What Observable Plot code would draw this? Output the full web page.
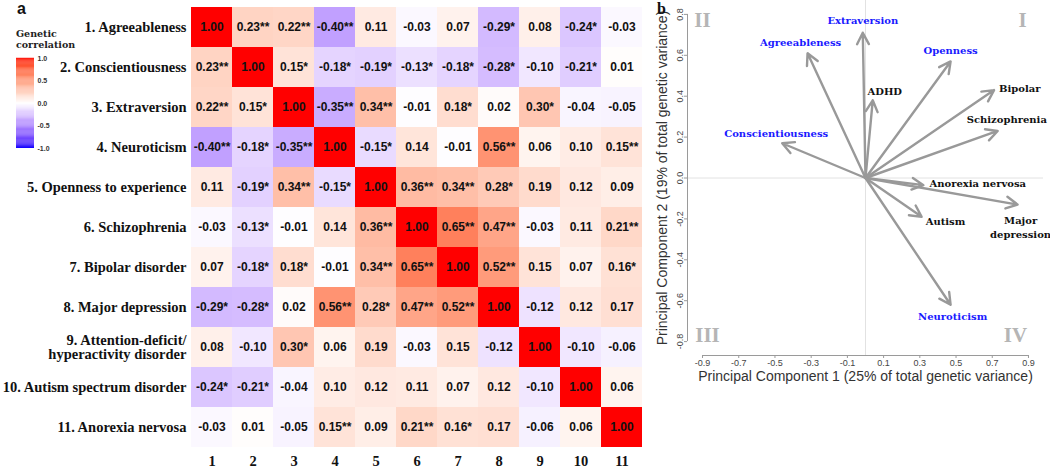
<!DOCTYPE html>
<html>
<head>
<meta charset="utf-8">
<script src="https://cdn.jsdelivr.net/npm/d3@7"></script>
<script src="https://cdn.jsdelivr.net/npm/@observablehq/plot@0.6"></script>
<style>
  body { margin: 0; background: white; }
  #wrap { position: relative; width: 1050px; height: 470px; overflow: hidden; }
  #wrap > * { position: absolute; }
</style>
</head>
<body>
<div id="wrap"></div>
<script>
// ---------- Panel a: genetic correlation matrix ----------
const traitLabels = [
  "1. Agreeableness",
  "2. Conscientiousness",
  "3. Extraversion",
  "4. Neuroticism",
  "5. Openness to experience",
  "6. Schizophrenia",
  "7. Bipolar disorder",
  "8. Major depression",
  "9. Attention-deficit/\nhyperactivity disorder",
  "10. Autism spectrum disorder",
  "11. Anorexia nervosa"
];
const columnLabels = ["1","2","3","4","5","6","7","8","9","10","11"];
const corrText = [
  ["1.00","0.23**","0.22**","-0.40**","0.11","-0.03","0.07","-0.29*","0.08","-0.24*","-0.03"],
  ["0.23**","1.00","0.15*","-0.18*","-0.19*","-0.13*","-0.18*","-0.28*","-0.10","-0.21*","0.01"],
  ["0.22**","0.15*","1.00","-0.35**","0.34**","-0.01","0.18*","0.02","0.30*","-0.04","-0.05"],
  ["-0.40**","-0.18*","-0.35**","1.00","-0.15*","0.14","-0.01","0.56**","0.06","0.10","0.15**"],
  ["0.11","-0.19*","0.34**","-0.15*","1.00","0.36**","0.34**","0.28*","0.19","0.12","0.09"],
  ["-0.03","-0.13*","-0.01","0.14","0.36**","1.00","0.65**","0.47**","-0.03","0.11","0.21**"],
  ["0.07","-0.18*","0.18*","-0.01","0.34**","0.65**","1.00","0.52**","0.15","0.07","0.16*"],
  ["-0.29*","-0.28*","0.02","0.56**","0.28*","0.47**","0.52**","1.00","-0.12","0.12","0.17"],
  ["0.08","-0.10","0.30*","0.06","0.19","-0.03","0.15","-0.12","1.00","-0.10","-0.06"],
  ["-0.24*","-0.21*","-0.04","0.10","0.12","0.11","0.07","0.12","-0.10","1.00","0.06"],
  ["-0.03","0.01","-0.05","0.15**","0.09","0.21**","0.16*","0.17","-0.06","0.06","1.00"]
];
const legendTicks = [1.0, 0.5, 0.0, -0.5, -1.0];

// ---------- Panel b: PCA loadings ----------
const pcaNames = ["Extraversion","Agreeableness","Openness","Conscientiousness","Neuroticism",
                  "ADHD","Bipolar","Schizophrenia","Anorexia nervosa","Major\ndepression","Autism"];
const pcaGroup = ["personality","personality","personality","personality","personality",
                  "disorder","disorder","disorder","disorder","disorder","disorder"];
const pc1 = [-0.015, -0.32, 0.47, -0.46, 0.47, 0.04, 0.71, 0.73, 0.32, 0.84, 0.31];
const pc2 = [0.71, 0.61, 0.57, 0.17, -0.62, 0.38, 0.43, 0.23, -0.035, -0.13, -0.19];
const pcXTicks = [-0.9, -0.7, -0.5, -0.3, -0.1, 0.1, 0.3, 0.5, 0.7, 0.9];
const pcYTicks = [-0.8, -0.6, -0.4, -0.2, 0.0, 0.2, 0.4, 0.6, 0.8];
const quadrantLabels = ["II", "I", "III", "IV"];
const xTitle = "Principal Component 1 (25% of total genetic variance)";
const yTitle = "Principal Component 2 (19% of total genetic variance)";

// ---------- build ----------
const wrap = document.getElementById("wrap");
const colorScale = {type: "linear", domain: [-1, 0, 1], range: ["blue", "white", "red"], interpolate: "lab"};

const idx = d3.range(1, 12);
const cells = [];
corrText.forEach((row, i) => row.forEach((t, j) => {
  cells.push({row: i + 1, col: j + 1, value: parseFloat(t), label: t});
}));

const heat = Plot.plot({
  width: 645, height: 470,
  marginLeft: 191, marginRight: 3, marginTop: 3, marginBottom: 20,
  x: {type: "band", domain: idx, padding: 0},
  y: {type: "band", domain: idx, padding: 0},
  color: colorScale,
  style: {background: "transparent", overflow: "visible"},
  marks: [
    Plot.cell(cells, {x: "col", y: "row", fill: "value", inset: 0}),
    Plot.text(cells, {x: "col", y: "row", text: "label", fill: "#111",
      fontWeight: "bold", fontSize: 12, fontFamily: "Liberation Sans, Arial, sans-serif"}),
    Plot.axisX({tickSize: 0, tickPadding: 5, label: null, fontSize: 14.5, fontWeight: "bold",
      fontFamily: "Liberation Serif, serif", color: "#111", tickFormat: d => columnLabels[d - 1]}),
    Plot.axisY({tickSize: 0, tickPadding: 5, label: null, fontSize: 14.5, fontWeight: "bold",
      fontFamily: "Liberation Serif, serif", color: "#111", tickFormat: d => traitLabels[d - 1]})
  ]
});
heat.style.left = "0px"; heat.style.top = "0px";
wrap.appendChild(heat);

// legend color bar
const step = 0.02;
const stops = d3.range(-1, 1, step);
const legend = Plot.plot({
  width: 60, height: 160,
  marginLeft: 16, marginRight: 26, marginTop: 58, marginBottom: 12,
  x: {domain: [0, 1], axis: null},
  y: {domain: [-1, 1], axis: null},
  color: colorScale,
  style: {background: "transparent", overflow: "visible"},
  marks: [
    Plot.rect(stops, {x1: 0, x2: 1, y1: d => d, y2: d => d + step + 0.005, fill: d => d + step / 2}),
    Plot.text(legendTicks, {x: 1, y: d => d, text: d => d.toFixed(1), dx: 3, textAnchor: "start",
      fontSize: 7, fontWeight: "bold", fill: "#333", fontFamily: "Liberation Sans, Arial, sans-serif"})
  ]
});
legend.style.left = "0px"; legend.style.top = "0px";
wrap.appendChild(legend);

const aLab = document.createElement("div");
aLab.textContent = "a";
aLab.style.cssText = "left:17px;top:0px;font:bold 16px 'Liberation Sans',Arial,sans-serif;line-height:18px;color:#111;";
wrap.appendChild(aLab);
const gLab = document.createElement("div");
gLab.innerHTML = "Genetic<br>correlation";
gLab.style.cssText = "left:16px;top:29px;font:bold 9.5px 'DejaVu Serif',serif;line-height:10.5px;color:#222;";
wrap.appendChild(gLab);

// ---------- Panel b ----------
const pca = pcaNames.map((name, i) => ({name, group: pcaGroup[i], pc1: pc1[i], pc2: pc2[i]}));
const xDom = [-0.983, 0.983];
const yDom = [-0.868, 0.868];
const labelLayout = {
  "Extraversion":      {dx: 0,   dy: -13, anchor: "middle"},
  "Agreeableness":     {dx: -7,  dy: -12, anchor: "middle"},
  "Openness":          {dx: 0,   dy: -12, anchor: "middle"},
  "Conscientiousness": {dx: -6,  dy: -11, anchor: "middle"},
  "Neuroticism":       {dx: 2,   dy: 11,  anchor: "middle"},
  "ADHD":              {dx: 12,  dy: -10, anchor: "middle"},
  "Bipolar":           {dx: 5,   dy: -2,  anchor: "start"},
  "Schizophrenia":     {dx: -31, dy: -12, anchor: "start"},
  "Anorexia nervosa":  {dx: 6,   dy: -2,  anchor: "start"},
  "Major\ndepression": {dx: 3,   dy: 22,  anchor: "middle"},
  "Autism":            {dx: 4,   dy: 4,   anchor: "start"}
};
const quadLayout = [
  {frameAnchor: "top-left", dx: 15, dy: 20},
  {frameAnchor: "top-right", dx: -21, dy: 20},
  {frameAnchor: "bottom-left", dx: 20, dy: -20},
  {frameAnchor: "bottom-right", dx: -28, dy: -20}
];
const labelFont = "DejaVu Serif, serif";

const pcaPlot = Plot.plot({
  width: 405, height: 470,
  marginLeft: 42, marginRight: 7, marginTop: 0, marginBottom: 115,
  x: {domain: xDom},
  y: {domain: yDom},
  style: {background: "transparent", overflow: "visible", fontFamily: "Liberation Sans, Arial, sans-serif"},
  marks: [
    Plot.ruleX([0], {stroke: "#e2e2e2", strokeWidth: 1}),
    Plot.ruleY([0], {stroke: "#e2e2e2", strokeWidth: 1}),
    // axis lines
    Plot.ruleY([yDom[0]], {x1: pcXTicks[0], x2: pcXTicks[pcXTicks.length - 1], stroke: "#9a9a9a"}),
    Plot.ruleX([xDom[0]], {y1: pcYTicks[0], y2: pcYTicks[pcYTicks.length - 1], stroke: "#9a9a9a"}),
    Plot.axisX({ticks: pcXTicks, tickSize: 3, tickPadding: 1, fontSize: 9, color: "#444",
      stroke: "#9a9a9a", label: null, tickFormat: d => d.toFixed(1)}),
    Plot.axisY({ticks: pcYTicks, tickSize: 3, tickPadding: 2, fontSize: 9, color: "#444",
      stroke: "#9a9a9a", label: null, tickRotate: -90, textAnchor: "middle", lineAnchor: "bottom",
      tickFormat: d => d.toFixed(1)}),
    Plot.text([xTitle], {frameAnchor: "bottom", dy: 21, lineAnchor: "middle", fontSize: 14, fill: "#333"}),
    Plot.text([yTitle], {frameAnchor: "left", dx: -25, rotate: -90, textAnchor: "middle",
      lineAnchor: "middle", fontSize: 14, fill: "#333"}),
    ...quadrantLabels.map((q, i) => Plot.text([q], {
      frameAnchor: quadLayout[i].frameAnchor, dx: quadLayout[i].dx, dy: quadLayout[i].dy,
      textAnchor: "middle", lineAnchor: "middle", fontSize: 21, fontWeight: "bold", fill: "#b5b5b5",
      fontFamily: "Liberation Serif, serif"})),
    Plot.arrow(pca, {x1: 0, y1: 0, x2: "pc1", y2: "pc2", stroke: "#999", strokeWidth: 2.4,
      headLength: 8, headAngle: 55}),
    ...pca.map(d => Plot.text([d], {
      x: "pc1", y: "pc2", text: "name",
      dx: labelLayout[d.name].dx, dy: labelLayout[d.name].dy, textAnchor: labelLayout[d.name].anchor,
      fill: d.group === "personality" ? "#1a1aff" : "#111",
      fontSize: 10, fontWeight: "bold", fontFamily: labelFont, lineHeight: 1.35}))
  ]
});
pcaPlot.style.left = "645px"; pcaPlot.style.top = "0px";
wrap.appendChild(pcaPlot);

const bLab = document.createElement("div");
bLab.textContent = "b";
bLab.style.cssText = "left:657px;top:0px;font:bold 16px 'Liberation Serif',serif;line-height:18px;color:#111;";
wrap.appendChild(bLab);
</script>
</body>
</html>
